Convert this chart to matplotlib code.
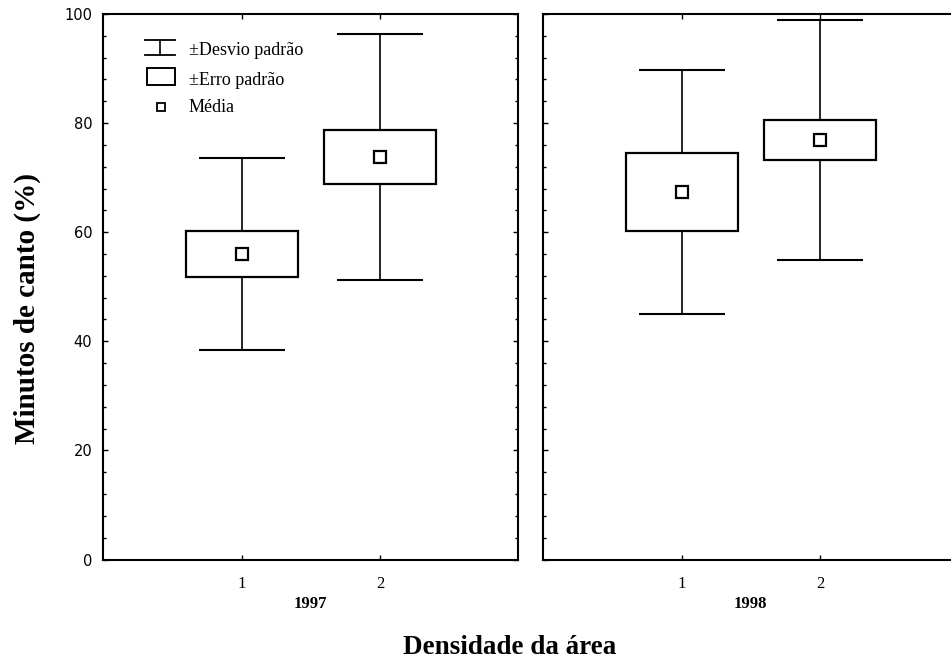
import matplotlib
matplotlib.use("Agg")
import matplotlib.pyplot as plt
from matplotlib.patches import Rectangle
from matplotlib.ticker import AutoMinorLocator

# valores
years = ["1997", "1998"]
groups = [1, 2]
means = {"1997": [56.0, 73.8], "1998": [67.4, 76.9]}
se = {"1997": [4.3, 4.95], "1998": [7.1, 3.6]}
sd = {"1997": [17.65, 22.55], "1998": [22.4, 21.95]}

yticks = [0, 20, 40, 60, 80, 100]

SERIF = ["Liberation Serif", "DejaVu Serif"]

fig = plt.figure(figsize=(9.51, 6.65), dpi=100)
W, H = 951, 665

def ax_rect(x0, x1, y_top, y_bot):
    return [x0 / W, 1 - y_bot / H, (x1 - x0) / W, (y_bot - y_top) / H]

ax1 = fig.add_axes(ax_rect(103.3, 518.3, 14, 559.5))
ax2 = fig.add_axes(ax_rect(543.3, 958.3, 14, 559.5))

box_hw = 0.405
cap_hw = 0.31

for ax, yr in zip([ax1, ax2], years):
    m, s, d = means[yr], se[yr], sd[yr]
    for g, mi, si, di in zip(groups, m, s, d):
        ax.vlines(g, mi - di, mi + di, color="black", lw=1.2, zorder=1)
        ax.hlines([mi - di, mi + di], g - cap_hw, g + cap_hw, color="black", lw=1.5, zorder=1)
        ax.add_patch(Rectangle((g - box_hw, mi - si), 2 * box_hw, 2 * si,
                               facecolor="white", edgecolor="black", lw=1.6, zorder=2))
    ax.plot(groups, m, "s", ms=8, mfc="white", mec="black", mew=1.6, zorder=3, ls="none")

    ax.set_xlim(0, 3)
    ax.set_ylim(0, 100)
    ax.set_xticks(groups)
    ax.set_xticklabels([str(g) for g in groups], fontfamily=SERIF, fontsize=12)
    ax.set_yticks(yticks)
    ax.yaxis.set_minor_locator(AutoMinorLocator(5))
    ax.tick_params(axis="both", which="both", direction="in", top=True, right=True)
    ax.tick_params(axis="y", which="major", length=3.5, width=1.0, pad=8)
    ax.tick_params(axis="y", which="minor", length=2.5, width=1.0)
    ax.tick_params(axis="x", which="major", length=3.5, width=1.0, pad=12)
    for sp in ax.spines.values():
        sp.set_linewidth(1.5)
    ax.set_xlabel(yr, fontfamily=SERIF, fontsize=12, fontweight="bold", labelpad=3)

ax1.set_yticklabels([str(v) for v in yticks], fontfamily="DejaVu Sans", fontsize=10.5)
ax2.set_yticklabels([])

# legenda desenhada a mao, como no original
def fx(px):
    return (px - 103.3) / 415

def fy(py):
    return (559.5 - py) / 545.5

tr = ax1.transAxes
ax1.plot([fx(145), fx(175)], [fy(39.5), fy(39.5)], color="black", lw=1.3, transform=tr)
ax1.plot([fx(145), fx(175)], [fy(55), fy(55)], color="black", lw=1.3, transform=tr)
ax1.plot([fx(160), fx(160)], [fy(39.5), fy(55)], color="black", lw=1.2, transform=tr)
ax1.add_patch(Rectangle((fx(147), fy(85)), fx(175) - fx(147), fy(68) - fy(85),
                        facecolor="white", edgecolor="black", lw=1.4, transform=tr))
ax1.plot([fx(160.5)], [fy(107)], "s", ms=5.5, mfc="white", mec="black", mew=1.3, transform=tr)
for txt, py in [("±Desvio padrão", 55), ("±Erro padrão", 85), ("Média", 111.7)]:
    ax1.text(fx(189), fy(py), txt, transform=tr, fontfamily=SERIF, fontsize=13, va="baseline")

fig.text(27 / W, 1 - 309 / H, "Minutos de canto (%)", rotation=90, ha="center", va="center",
         fontfamily=SERIF, fontsize=21, fontweight="bold")
fig.text(510 / W, 1 - 648 / H, "Densidade da área", ha="center", va="center",
         fontfamily=SERIF, fontsize=19.5, fontweight="bold")

fig.savefig("out.png", dpi=100)
